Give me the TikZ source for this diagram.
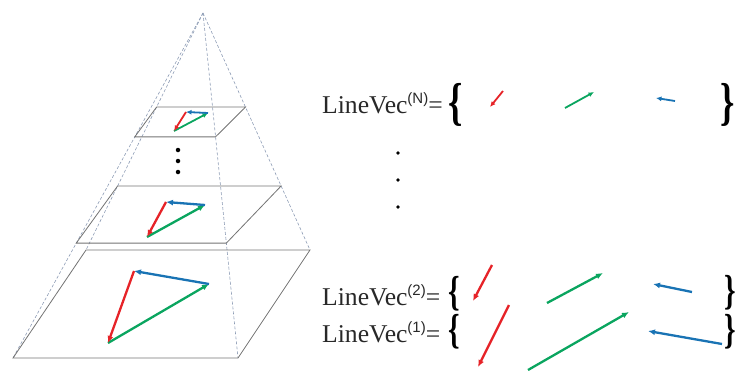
\documentclass[tikz,border=0pt]{standalone}
\usepackage{fontspec}
\setmainfont{Liberation Serif}
\newfontfamily\lvsupfont{Liberation Sans}
\usetikzlibrary{arrows.meta,calc}
\definecolor{LvRed}{RGB}{230,35,40}
\definecolor{LvGreen}{RGB}{10,165,95}
\definecolor{LvBlue}{RGB}{25,115,180}
\definecolor{LvEdge}{RGB}{115,115,115}
\definecolor{LvDash}{RGB}{140,155,180}
\definecolor{LvText}{RGB}{40,40,40}
\newcommand{\lvsup}[1]{\raisebox{10pt}{\lvsupfont\fontsize{15}{15}\selectfont(#1)}}
\tikzset{
  lv/plane/.style={draw=LvEdge, line width=0.8pt},
  lv/hidden/.style={draw=LvDash, line width=0.6pt, dash pattern=on 3pt off 2pt},
  lv/vec/.style={line width=2.3pt, -{Latex[length=7pt,width=6pt]}},
  lv/small/.style={line width=1.8pt, -{Latex[length=5.5pt,width=5pt]}},
  lv/red/.style={draw=LvRed},
  lv/green/.style={draw=LvGreen},
  lv/blue/.style={draw=LvBlue},
  lv/label/.style={anchor=base west, inner sep=0pt, text=LvText, font=\fontsize{25.6}{26}\selectfont},
  lv/brace/.style={inner sep=0pt, font=\fontsize{42}{42}\selectfont\bfseries},
  lv/bigbrace/.style={lv/brace, font=\fontsize{52}{52}\selectfont\bfseries},
  lv/dot/.style={circle, fill=black, inner sep=0pt, minimum size=4.5pt}
}
\newcommand{\lvbrace}[1]{\scalebox{0.7}[1]{#1}}
\begin{document}
\begin{tikzpicture}[x=1pt,y=-1pt]
  \useasboundingbox (0,0) rectangle (739,370);
  % pyramid
  \coordinate (apex) at (203,13);
  \coordinate (bl) at (86,250);
  \coordinate (br) at (310,250);
  \coordinate (fr) at (238,358);
  \coordinate (fl) at (13,358);
  \foreach \c in {bl,br,fr,fl}
    \draw[lv/hidden] (apex) -- (\c);
  % levels 1, 2 and N
  \foreach \tb/\tf in {1/1, 0.73/0.667, 0.397/0.359}
    \draw[lv/plane] ($(apex)!\tb!(bl)$) -- ($(apex)!\tb!(br)$)
      -- ($(apex)!\tf!(fr)$) -- ($(apex)!\tf!(fl)$) -- cycle;

  % vectors in level 1
  \coordinate (p1a) at (134,271);
  \coordinate (p1b) at (108,343);
  \coordinate (p1c) at (209,284);
  \draw[lv/vec,lv/green] (p1b) -- (p1c);
  \draw[lv/vec,lv/blue] (p1c) -- (p1a);
  \draw[lv/vec,lv/red] (p1a) -- (p1b);
  % vectors in level 2
  \coordinate (p2a) at (166,202);
  \coordinate (p2b) at (147,237);
  \coordinate (p2c) at (205,205);
  \draw[lv/vec,lv/green] (p2b) -- (p2c);
  \draw[lv/vec,lv/blue] (p2c) -- (p2a);
  \draw[lv/vec,lv/red] (p2a) -- (p2b);
  % vectors in level N
  \coordinate (pNa) at (186,112);
  \coordinate (pNb) at (174,131);
  \coordinate (pNc) at (208,113);
  \draw[lv/small,lv/green] (pNb) -- (pNc);
  \draw[lv/small,lv/blue] (pNc) -- (pNa);
  \draw[lv/small,lv/red] (pNa) -- (pNb);

  \node[lv/dot] (ldot1) at (178,150) {};
  \node[lv/dot] (ldot2) at (178,161) {};
  \node[lv/dot] (ldot3) at (178,172) {};

  % line vector sets
  \node[lv/label] (vecN) at (322,113) {LineVec\lvsup{N}=};
  \node[lv/label] (vec2) at (322,305) {LineVec\lvsup{2}=};
  \node[lv/label] (vec1) at (322,342) {LineVec\lvsup{1}=};
  \node[lv/bigbrace] (openN) at (456,104.5) {\lvbrace{\{}};
  \node[lv/bigbrace] (closeN) at (728,104.5) {\lvbrace{\}}};
  \node[lv/brace] (open2) at (454,293.5) {\lvbrace{\{}};
  \node[lv/brace] (close2) at (730,293) {\lvbrace{\}}};
  \node[lv/brace] (open1) at (454,331.5) {\lvbrace{\{}};
  \node[lv/brace] (close1) at (730,331.5) {\lvbrace{\}}};

  \node[lv/dot,minimum size=3.8pt] (rdot1) at (398,153) {};
  \node[lv/dot,minimum size=3.8pt] (rdot2) at (398,180) {};
  \node[lv/dot,minimum size=3.8pt] (rdot3) at (398,207) {};

  \coordinate (rNs) at (503,91);  \coordinate (rNe) at (490,107);
  \coordinate (gNs) at (565,108); \coordinate (gNe) at (594,92);
  \coordinate (bNs) at (675,101); \coordinate (bNe) at (656,98);
  \draw[lv/small,lv/red] (rNs) -- (rNe);
  \draw[lv/small,lv/green] (gNs) -- (gNe);
  \draw[lv/small,lv/blue] (bNs) -- (bNe);

  \coordinate (r2s) at (492,265); \coordinate (r2e) at (473,301);
  \coordinate (g2s) at (547,303); \coordinate (g2e) at (603,273);
  \coordinate (b2s) at (692,292); \coordinate (b2e) at (653,284);
  \draw[lv/vec,lv/red] (r2s) -- (r2e);
  \draw[lv/vec,lv/green] (g2s) -- (g2e);
  \draw[lv/vec,lv/blue] (b2s) -- (b2e);

  \coordinate (r1s) at (509,305); \coordinate (r1e) at (478,367);
  \coordinate (g1s) at (528,370); \coordinate (g1e) at (629,312);
  \coordinate (b1s) at (722,344); \coordinate (b1e) at (648,331);
  \draw[lv/vec,lv/red] (r1s) -- (r1e);
  \draw[lv/vec,lv/green] (g1s) -- (g1e);
  \draw[lv/vec,lv/blue] (b1s) -- (b1e);
\end{tikzpicture}
\end{document}
